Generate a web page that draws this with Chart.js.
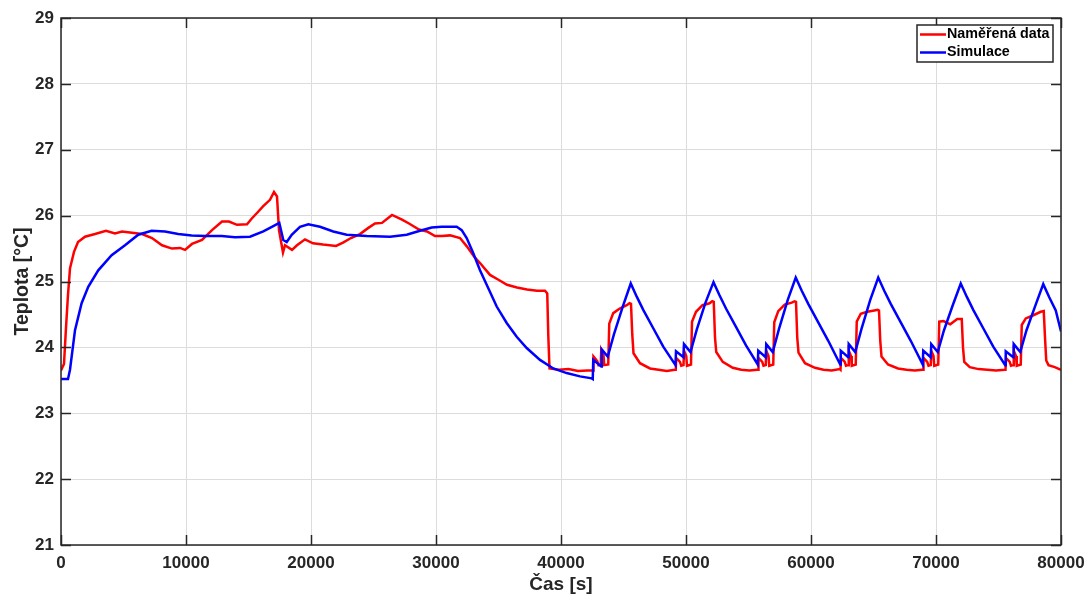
<!DOCTYPE html>
<html>
<head>
<meta charset="utf-8">
<title>Teplota – měření a simulace</title>
<script src="https://cdn.jsdelivr.net/npm/chart.js@4.4.1/dist/chart.umd.min.js"></script>
<style>
    html, body { margin: 0; padding: 0; background: #fff; }
    #tempChart { display: block; }
</style>
</head>
<body>
<canvas id="tempChart" width="1089" height="596"></canvas>
<script>
// Naměřená data – čas [s]
const measuredTime = [
    0, 240, 400, 560, 720, 1040, 1360, 1920, 2720, 3600, 4320, 4880, 5680, 6480, 7280, 8080, 8880,
    9520, 9920, 10480, 11280, 12080, 12880, 13440, 14080, 14880, 15280, 15680, 16160, 16720, 17040,
    17280, 17440, 17760, 17920, 18480, 18880, 19520, 20160, 20960, 22000, 22560, 23200, 23920, 24560,
    25120, 25680, 26480, 27280, 27840, 28640, 29280, 29920, 30480, 31120, 31920, 32480, 33040, 33520,
    34320, 34960, 35680, 36480, 37280, 38080, 38720, 38900, 38980, 39080, 39840, 40600, 41360, 42100,
    42560, 42600, 42900, 43000, 43180, 43220, 43400, 43460, 43780, 43860, 44180, 44700, 45260, 45480,
    45600, 45700, 45800, 46320, 47120, 47800, 48460, 49100,
    49180, 49220, 49520, 49620, 49800, 49840, 50020, 50080, 50400, 50480, 50800, 51320, 51880, 52100,
    52220, 52320, 52420, 52940, 53740, 54420, 55080, 55700,
    55760, 55800, 56100, 56200, 56380, 56420, 56600, 56660, 56980, 57060, 57380, 57900, 58460, 58680,
    58800, 58900, 59000, 59520, 60320, 61000, 61660, 62300,
    62360, 62400, 62700, 62800, 62980, 63020, 63200, 63260, 63580, 63660, 63980, 64500, 65060, 65340,
    65440, 65540, 65640, 66160, 66960, 67640, 68300, 68900,
    68960, 69000, 69300, 69400, 69580, 69620, 69800, 69860, 70180, 70260, 70600, 71140, 71700, 72060,
    72160, 72260, 72700, 73400, 74100, 74800, 75500,
    75560, 75600, 75900, 76000, 76180, 76220, 76400, 76460, 76780, 76860, 77180, 77700, 78380, 78620,
    78720, 78820, 79000, 79500, 80000
];
// Naměřená data – teplota [°C]
const measuredTemp = [
    23.65, 23.75, 24.30, 24.80, 25.20, 25.45, 25.60, 25.68, 25.72, 25.77, 25.73, 25.76, 25.74, 25.72, 25.66, 25.55, 25.50,
    25.51, 25.48, 25.57, 25.63, 25.78, 25.91, 25.91, 25.86, 25.87, 25.96, 26.04, 26.14, 26.24, 26.36,
    26.29, 25.78, 25.44, 25.55, 25.48, 25.55, 25.64, 25.58, 25.56, 25.54, 25.59, 25.66, 25.72, 25.81,
    25.88, 25.89, 26.01, 25.94, 25.88, 25.79, 25.76, 25.69, 25.69, 25.70, 25.66, 25.53, 25.38, 25.28,
    25.10, 25.03, 24.95, 24.91, 24.88, 24.86, 24.86, 24.82, 24.20, 23.68, 23.66, 23.67, 23.64, 23.65,
    23.65, 23.86, 23.79, 23.73, 23.74, 23.96, 23.88, 23.73, 23.74, 24.36, 24.52, 24.59, 24.64, 24.67,
    24.66, 24.20, 23.91, 23.76, 23.68, 23.66, 23.64, 23.66,
    23.66, 23.84, 23.78, 23.72, 23.73, 23.95, 23.87, 23.72, 23.74, 24.39, 24.54, 24.64, 24.67, 24.70,
    24.69, 24.15, 23.93, 23.78, 23.69, 23.66, 23.65, 23.66,
    23.66, 23.84, 23.78, 23.72, 23.73, 23.95, 23.87, 23.72, 23.74, 24.38, 24.55, 24.65, 24.68, 24.70,
    24.69, 24.15, 23.92, 23.76, 23.69, 23.66, 23.65, 23.67,
    23.66, 23.84, 23.78, 23.72, 23.73, 23.95, 23.87, 23.72, 23.74, 24.39, 24.51, 24.54, 24.56, 24.57,
    24.56, 24.10, 23.86, 23.74, 23.68, 23.66, 23.65, 23.66,
    23.66, 23.84, 23.78, 23.72, 23.73, 23.95, 23.87, 23.72, 23.74, 24.39, 24.40, 24.35, 24.43, 24.43,
    24.00, 23.78, 23.70, 23.67, 23.66, 23.65, 23.66,
    23.66, 23.84, 23.78, 23.72, 23.73, 23.95, 23.87, 23.72, 23.74, 24.34, 24.44, 24.48, 24.54, 24.55,
    24.15, 23.80, 23.73, 23.70, 23.66
];

// Simulace – čas [s]
const simTime = [
    0, 560, 720, 1120, 1650, 2180, 2980, 4050, 5120, 6180, 7250, 8320, 9380, 10450, 11520, 12850,
    13920, 15120, 16184, 16984, 17464, 17784, 18056, 18456, 19120, 19784, 20720, 21784, 22856, 24456,
    26320, 27656, 28720, 29656, 30456, 31656, 32056, 32456, 32984, 33520, 34056, 34856, 35656, 36456,
    37256, 38320, 39384, 40456, 41520, 42456,
    42540, 42580, 43220, 43260, 43740, 44240, 44940, 45580, 46060, 46580, 47380, 48180,
    49160, 49200, 49800, 49840, 50360, 50860, 51560, 52200, 52680, 53200, 54000, 54800,
    55740, 55780, 56380, 56420, 56940, 57440, 58140, 58780, 59260, 59780, 60580, 61380,
    62340, 62380, 62980, 63020, 63540, 64040, 64740, 65380, 65860, 66380, 67180, 67980,
    68940, 68980, 69580, 69620, 70140, 70640, 71340, 71980, 72460, 72980, 73780, 74580,
    75540, 75580, 76180, 76220, 76740, 77240, 77940, 78580, 79060, 79580, 80000
];
// Simulace – teplota [°C]
const simTemp = [
    23.52, 23.52, 23.66, 24.26, 24.67, 24.92, 25.17, 25.40, 25.55, 25.71, 25.77, 25.76, 25.72, 25.70, 25.69, 25.69,
    25.67, 25.68, 25.76, 25.84, 25.89, 25.63, 25.60, 25.71, 25.83, 25.87, 25.83, 25.76, 25.71, 25.69,
    25.68, 25.71, 25.77, 25.82, 25.83, 25.83, 25.78, 25.66, 25.43, 25.17, 24.95, 24.62, 24.37, 24.16,
    23.99, 23.81, 23.68, 23.61, 23.56, 23.53,
    23.52, 23.81, 23.71, 23.97, 23.86, 24.20, 24.62, 24.97, 24.77, 24.57, 24.29, 24.01,
    23.73, 23.94, 23.85, 24.05, 23.93, 24.27, 24.68, 24.99, 24.79, 24.59, 24.31, 24.03,
    23.74, 23.95, 23.85, 24.05, 23.93, 24.28, 24.72, 25.06, 24.86, 24.66, 24.38, 24.10,
    23.74, 23.95, 23.85, 24.05, 23.93, 24.28, 24.72, 25.06, 24.86, 24.66, 24.38, 24.10,
    23.74, 23.95, 23.85, 24.05, 23.93, 24.26, 24.64, 24.97, 24.77, 24.57, 24.29, 24.01,
    23.73, 23.94, 23.85, 24.05, 23.93, 24.26, 24.63, 24.96, 24.76, 24.56, 24.24
];

const xTicks = [0, 10000, 20000, 30000, 40000, 50000, 60000, 70000, 80000];
const yTicks = [21, 22, 23, 24, 25, 26, 27, 28, 29];

const axisColor = '#262626';
const gridColor = '#dcdcdc';
const fontFamily = 'Liberation Sans, Arial, sans-serif';
const tickFont = { family: fontFamily, size: 17, weight: 'bold' };

function toPoints(xs, ys) {
    return xs.map((x, i) => ({ x: x, y: ys[i] }));
}

// uzavřený rámeček os s krátkými značkami dovnitř
const axesBox = {
    id: 'axesBox',
    afterDatasetsDraw(chart) {
        const { ctx, chartArea: a, scales } = chart;
        const len = 10;
        ctx.save();
        ctx.strokeStyle = axisColor;
        ctx.lineWidth = 1.5;
        ctx.strokeRect(a.left, a.top, a.right - a.left, a.bottom - a.top);
        ctx.beginPath();
        xTicks.forEach(v => {
            const px = Math.round(scales.x.getPixelForValue(v)) + 0.5;
            ctx.moveTo(px, a.bottom); ctx.lineTo(px, a.bottom - len);
            ctx.moveTo(px, a.top); ctx.lineTo(px, a.top + len);
        });
        yTicks.forEach(v => {
            const py = Math.round(scales.y.getPixelForValue(v)) + 0.5;
            ctx.moveTo(a.left, py); ctx.lineTo(a.left + len, py);
            ctx.moveTo(a.right, py); ctx.lineTo(a.right - len, py);
        });
        ctx.stroke();
        ctx.restore();
    }
};

// legenda v pravém horním rohu
const boxLegend = {
    id: 'boxLegend',
    afterDraw(chart) {
        const { ctx } = chart;
        const x0 = 917, y0 = 25, w = 136, h = 37;
        ctx.save();
        ctx.fillStyle = '#fff';
        ctx.fillRect(x0, y0, w, h);
        ctx.strokeStyle = axisColor;
        ctx.lineWidth = 1.5;
        ctx.strokeRect(x0, y0, w, h);
        ctx.font = 'bold 14.3px ' + fontFamily;
        ctx.textBaseline = 'middle';
        chart.data.datasets.forEach((ds, i) => {
            const y = y0 + 9.5 + i * 18;
            ctx.strokeStyle = ds.borderColor;
            ctx.lineWidth = 2.5;
            ctx.beginPath();
            ctx.moveTo(x0 + 3, y); ctx.lineTo(x0 + 29, y);
            ctx.stroke();
            ctx.fillStyle = '#000';
            ctx.fillText(ds.label, x0 + 30, y);
        });
        ctx.restore();
    }
};

const ctx = document.getElementById('tempChart').getContext('2d');
new Chart(ctx, {
    type: 'line',
    data: {
        datasets: [{
            label: 'Naměřená data',
            data: toPoints(measuredTime, measuredTemp),
            borderColor: '#ff0000',
            borderWidth: 2.5,
            pointRadius: 0,
            tension: 0,
            order: 2
        }, {
            label: 'Simulace',
            data: toPoints(simTime, simTemp),
            borderColor: '#0000ff',
            borderWidth: 2.5,
            pointRadius: 0,
            tension: 0,
            order: 1
        }]
    },
    options: {
        responsive: false,
        animation: false,
        events: [],
        layout: { padding: { top: 18, right: 28, left: 0, bottom: 0 } },
        plugins: {
            legend: { display: false },
            tooltip: { enabled: false }
        },
        scales: {
            x: {
                type: 'linear',
                min: 0,
                max: 80000,
                afterBuildTicks: scale => { scale.ticks = xTicks.map(v => ({ value: v })); },
                afterFit: scale => {
                    scale.height = 51;
                    scale.paddingLeft = 0;
                    scale.paddingRight = 0;
                },
                ticks: {
                    color: axisColor,
                    font: tickFont,
                    padding: 8,
                    maxRotation: 0,
                    callback: v => String(v)
                },
                grid: { color: gridColor, lineWidth: 1, drawTicks: false },
                border: { display: false },
                title: {
                    display: true,
                    text: 'Čas [s]',
                    color: axisColor,
                    font: { family: fontFamily, size: 19, weight: 'bold' },
                    padding: { top: 0, bottom: 0 }
                }
            },
            y: {
                type: 'linear',
                min: 21,
                max: 29,
                afterBuildTicks: scale => { scale.ticks = yTicks.map(v => ({ value: v })); },
                afterFit: scale => {
                    scale.width = 61;
                    scale.paddingTop = 0;
                    scale.paddingBottom = 0;
                },
                ticks: {
                    color: axisColor,
                    font: tickFont,
                    padding: 7
                },
                grid: { color: gridColor, lineWidth: 1, drawTicks: false },
                border: { display: false },
                title: {
                    display: true,
                    text: 'Teplota [°C]',
                    color: axisColor,
                    font: { family: fontFamily, size: 19.5, weight: 'bold' },
                    padding: { top: 11, bottom: 0 }
                }
            }
        }
    },
    plugins: [axesBox, boxLegend]
});
</script>
</body>
</html>
